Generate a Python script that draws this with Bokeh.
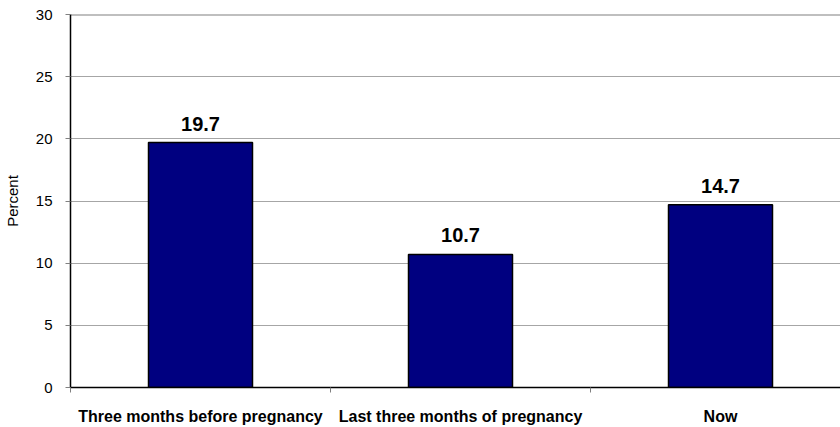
from bokeh.plotting import figure
from bokeh.models import ColumnDataSource, FixedTicker, Range1d, LabelSet
from bokeh.core.properties import value
from bokeh.embed import file_html
from bokeh.resources import INLINE

categories = ["Three months before pregnancy", "Last three months of pregnancy", "Now"]
values = [19.7, 10.7, 14.7]
y_ticks = [0, 5, 10, 15, 20, 25, 30]

xpos = [i + 0.5 for i in range(len(categories))]
labels = [f"{v:.1f}" for v in values]
src = ColumnDataSource(dict(x=xpos, top=values, lab=labels))

XMAX = 770 / 260

p = figure(width=840, height=427, output_backend="svg", toolbar_location=None,
           x_range=Range1d(0, XMAX), y_range=Range1d(0, 30),
           min_border_left=70, min_border_right=0, min_border_top=14, min_border_bottom=38)
p.outline_line_color = None
p.background_fill_color = "white"

p.vbar(x="x", top="top", width=0.4, bottom=0, source=src,
       fill_color="#000080", line_color="black", line_width=1.5)

ls = LabelSet(x="x", y="top", text="lab", source=src, text_align="center",
              text_baseline="alphabetic", y_offset=12, text_font=value("Liberation Sans"),
              text_font_style="bold", text_font_size="20px", text_color="black")
p.add_layout(ls)

# top border line at 30
p.segment(x0=[0], y0=[30], x1=[XMAX], y1=[30], line_color="#808080", line_width=2)

p.xgrid.visible = False
p.ygrid.grid_line_color = "#a6a6a6"
p.ygrid.grid_line_width = 1
p.ygrid.ticker = FixedTicker(ticks=y_ticks)

p.yaxis.ticker = FixedTicker(ticks=y_ticks)
p.yaxis.axis_label = "Percent"
p.yaxis.axis_label_text_font = "Liberation Sans"
p.yaxis.axis_label_text_font_style = "normal"
p.yaxis.axis_label_text_font_size = "15px"
p.yaxis.axis_label_text_color = "black"
p.yaxis.axis_label_standoff = 12
p.yaxis.major_label_text_font = "Liberation Sans"
p.yaxis.major_label_text_font_size = "15px"
p.yaxis.major_label_text_color = "black"
p.yaxis.major_label_standoff = 13
p.yaxis.axis_line_color = "black"
p.yaxis.axis_line_width = 1.5
p.yaxis.major_tick_line_color = "#808080"
p.yaxis.major_tick_out = 5
p.yaxis.major_tick_in = 0
p.yaxis.minor_tick_line_color = None

p.xaxis.ticker = FixedTicker(ticks=xpos, minor_ticks=[0, 1, 2, 3])
p.xaxis.major_label_overrides = {x: c for x, c in zip(xpos, categories)}
p.xaxis.major_label_text_font = "Liberation Sans"
p.xaxis.major_label_text_font_style = "bold"
p.xaxis.major_label_text_font_size = "16px"
p.xaxis.major_label_text_color = "black"
p.xaxis.major_label_standoff = 14
p.xaxis.major_tick_line_color = None
p.xaxis.major_tick_out = 6
p.xaxis.minor_tick_line_color = "#808080"
p.xaxis.minor_tick_out = 5
p.xaxis.minor_tick_in = 0
p.xaxis.axis_line_color = "black"
p.xaxis.axis_line_width = 1.5

open("out.html", "w").write(file_html(p, INLINE))
